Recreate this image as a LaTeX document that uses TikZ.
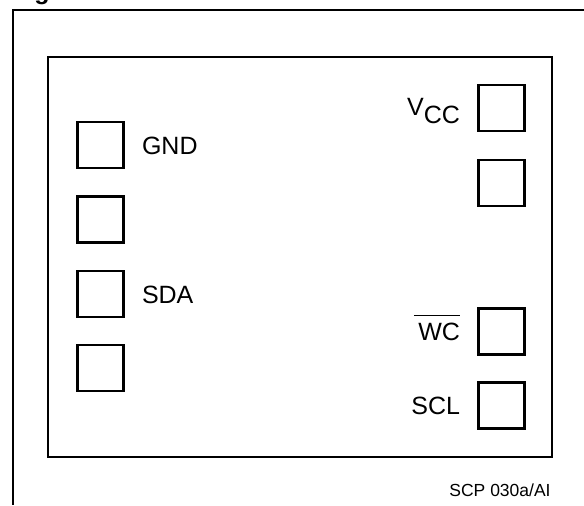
\documentclass[tikz,border=0pt]{standalone}
\usepackage{fontspec}
\setmainfont{Liberation Sans}
\usetikzlibrary{positioning}

\tikzset{
  pad/.style={draw, line width=1.1pt, minimum size=23pt, inner sep=0pt},
  pinname/.style={inner sep=0pt, font=\fontsize{12.5}{15}\selectfont},
  frame/.style={line width=1.2pt}
}

\begin{document}
\begin{tikzpicture}[x=0.5pt, y=-0.5pt]
    \useasboundingbox (0,0) rectangle (584,505);
    \clip (0,0) rectangle (584,505);

    \node[anchor=base west, inner sep=0pt, font=\bfseries\fontsize{12.5}{15}\selectfont] (title) at (34,-1) {g};
    \draw[frame] (584,10) -- (13,10) -- (13,505);
    \draw[frame] (48,57) rectangle (552,457);

    \foreach \i/\y in {1/145, 2/219.5, 3/294, 4/368}
      \node[pad] (left\i) at (100.5,\y) {};
    \foreach \i/\y in {1/108, 2/183, 3/331.5, 4/405.5}
      \node[pad] (right\i) at (501.5,\y) {};

    \node[pinname, anchor=base west] (gnd) at ([xshift=8.5pt, yshift=-4.5pt]left1.east) {GND};
    \node[pinname, anchor=base west] (sda) at ([xshift=8.5pt, yshift=-4.5pt]left3.east) {SDA};
    \node[pinname, anchor=base east] (vcc) at ([xshift=-8.5pt, yshift=-3.5pt]right1.west) {V\raisebox{-4pt}{CC}};
    \node[pinname, anchor=base east] (wc) at ([xshift=-8.5pt, yshift=-4.5pt]right3.west) {WC};
    \draw[line width=0.7pt] ([xshift=-2pt, yshift=3.5pt]wc.north west) -- ([yshift=3.5pt]wc.north east);
    \node[pinname, anchor=base east] (scl) at ([xshift=-8.5pt, yshift=-4.5pt]right4.west) {SCL};

    \node[anchor=base east, inner sep=0pt, font=\fontsize{8.75}{10}\selectfont] (ref) at (551,496.5) {SCP 030a/AI};
\end{tikzpicture}
\end{document}
